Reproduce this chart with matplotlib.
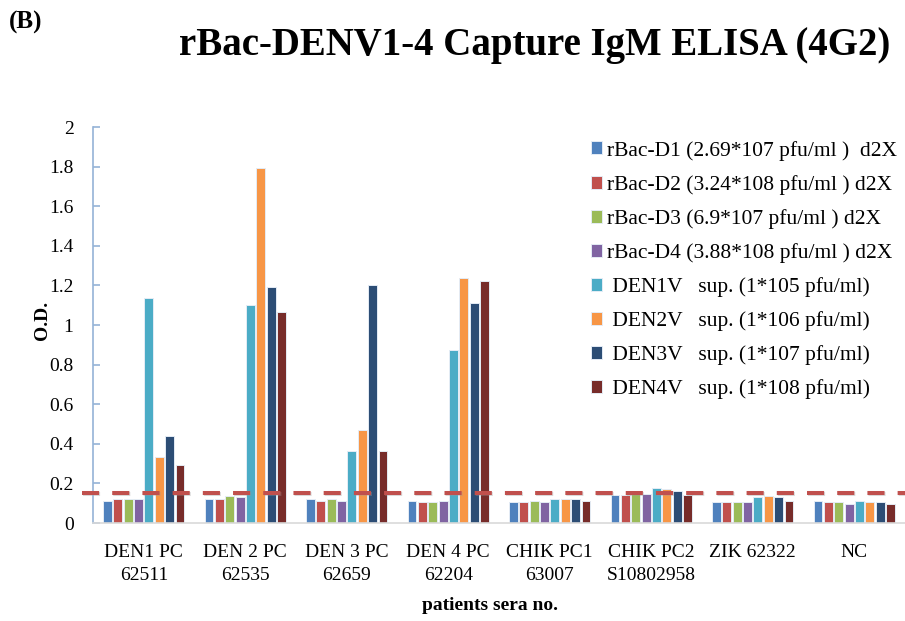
import numpy as np
import matplotlib.pyplot as plt

plt.rcParams['font.family'] = ['Liberation Serif', 'DejaVu Serif']

groups = ['DEN1 PC\n62511', 'DEN 2 PC\n62535', 'DEN 3 PC\n62659', 'DEN 4 PC\n62204',
          'CHIK PC1\n63007', 'CHIK PC2\nS10802958', 'ZIK 62322', 'NC']

series_names = ['rBac-D1 (2.69*107 pfu/ml )  d2X',
                'rBac-D2 (3.24*108 pfu/ml ) d2X',
                'rBac-D3 (6.9*107 pfu/ml ) d2X',
                'rBac-D4 (3.88*108 pfu/ml ) d2X',
                ' DEN1V   sup. (1*105 pfu/ml)',
                ' DEN2V   sup. (1*106 pfu/ml)',
                ' DEN3V   sup. (1*107 pfu/ml)',
                ' DEN4V   sup. (1*108 pfu/ml)']

colors = ['#4F81BD', '#C0504D', '#9BBB59', '#8064A2',
          '#4BACC6', '#F79646', '#2C4D75', '#772C2A']

# O.D. per series, one value per patient serum
rbac_d1 = [0.113, 0.120, 0.120, 0.113, 0.106, 0.143, 0.106, 0.111]
rbac_d2 = [0.120, 0.120, 0.113, 0.108, 0.106, 0.143, 0.106, 0.106]
rbac_d3 = [0.120, 0.136, 0.120, 0.108, 0.111, 0.148, 0.106, 0.106]
rbac_d4 = [0.120, 0.130, 0.113, 0.113, 0.106, 0.148, 0.106, 0.098]
den1v = [1.135, 1.100, 0.365, 0.874, 0.121, 0.177, 0.133, 0.111]
den2v = [0.335, 1.795, 0.470, 1.236, 0.121, 0.170, 0.138, 0.106]
den3v = [0.441, 1.190, 1.202, 1.110, 0.121, 0.160, 0.133, 0.106]
den4v = [0.291, 1.064, 0.365, 1.224, 0.111, 0.143, 0.111, 0.098]
cutoff = 0.153

series = [rbac_d1, rbac_d2, rbac_d3, rbac_d4, den1v, den2v, den3v, den4v]

fig = plt.figure(figsize=(9.05, 6.21), dpi=100)
ax = fig.add_axes([93/905, 98/621, 812/905, 396/621])

x = np.arange(len(groups))
slot = 0.102
for j, (vals, c, name) in enumerate(zip(series, colors, series_names)):
    ax.bar(x + (j - 3.5) * slot, vals, width=0.088, color=c, label=name,
           edgecolor='#e4ecf5', linewidth=0.7, zorder=2)

# cut-off line (with a faint shadow)
ax.axhline(cutoff - 0.006, xmin=-0.012, xmax=1, color='#999999', alpha=0.35,
           lw=2.9, dashes=(4.25, 3.25), clip_on=False, zorder=2.5)
ax.axhline(cutoff, xmin=-0.014, xmax=1, color='#C0504D', lw=2.9,
           dashes=(4.25, 3.25), clip_on=False, zorder=3)

ax.set_xlim(-0.5, 7.5)
ax.set_ylim(0, 2)
ax.set_yticks(np.arange(0, 2.01, 0.2))
ax.set_yticklabels(['0', '0.2', '0.4', '0.6', '0.8', '1', '1.2', '1.4', '1.6', '1.8', '2'])
ax.set_xticks(x)
ax.set_xticklabels(groups, linespacing=1.45)

for s in ['top', 'right']:
    ax.spines[s].set_visible(False)
ax.spines['left'].set_color('#95B3D7')
ax.spines['left'].set_linewidth(1.2)
ax.spines['bottom'].set_color('#D9D9D9')
ax.spines['bottom'].set_linewidth(1.2)
ax.tick_params(axis='y', direction='in', length=5, color='#95B3D7', width=1.2,
               labelsize=14, pad=14)
ax.tick_params(axis='x', length=0, labelsize=14, pad=15)

leg = ax.legend(loc='upper left', bbox_to_anchor=(582/905, 1 - 132/621),
                bbox_transform=fig.transFigure, frameon=False, fontsize=15.5,
                handlelength=0.55, handleheight=0.55, handletextpad=0.2,
                labelspacing=0.66, borderaxespad=0)

fig.text(535/905, 1 - 46/621, 'rBac-DENV1-4 Capture IgM ELISA (4G2)',
         ha='center', va='center', fontsize=28, fontweight='bold')
fig.text(9/905, 1 - 22/621, '(B)', ha='left', va='center', fontsize=18,
         fontweight='bold')
fig.text(490/905, 1 - 606/621, 'patients sera no.', ha='center', va='center',
         fontsize=14, fontweight='bold')
fig.text(42/905, 1 - 320/621, 'O.D.', ha='center', va='center', rotation=90,
         fontsize=14, fontweight='bold')

fig.savefig('out.png', dpi=100)
